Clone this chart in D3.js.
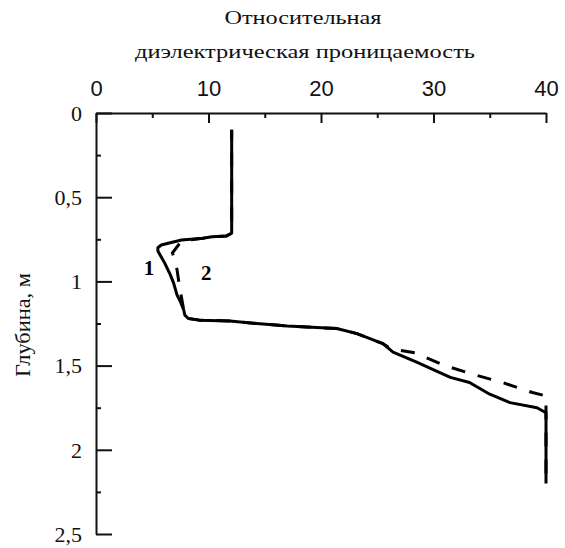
<!DOCTYPE html>
<html>
<head>
<meta charset="utf-8">
<script src="https://cdn.jsdelivr.net/npm/d3@7"></script>
<style>
  html, body { margin: 0; padding: 0; background: #fff; }
  svg { display: block; }
</style>
</head>
<body>
<svg id="chart" width="565" height="548"></svg>
<script>
// ---- data ----
const xTicksMajor = [0, 10, 20, 30, 40];
const xTicksMinor = [5, 15, 25, 35];
const yTicksMajor = [0, 0.5, 1, 1.5, 2, 2.5];
const yTicksMinor = [0.25, 0.75, 1.25, 1.75, 2.25];

// curve 1 (solid): permittivity vs depth
const curve1Eps   = [12.06, 12.06, 11.6, 10.3, 9.5, 7.6, 6.6, 5.8, 5.5, 5.5, 6.1, 6.6, 6.9, 7.2, 7.5, 7.8, 7.9, 8.2, 9.2, 11.9, 14.3, 17.0, 21.4, 23.2, 25.5, 26.4, 28.5, 31.5, 33.2, 35.0, 36.8, 39.2, 40, 40];
const curve1Depth = [0.10, 0.714, 0.73, 0.735, 0.744, 0.754, 0.77, 0.784, 0.80, 0.82, 0.89, 0.96, 1.01, 1.08, 1.12, 1.17, 1.20, 1.22, 1.23, 1.235, 1.25, 1.265, 1.28, 1.31, 1.37, 1.42, 1.48, 1.57, 1.60, 1.67, 1.72, 1.75, 1.78, 2.20];

// curve 2 (dashed)
const curve2Eps   = [12.06, 12.06, 11.6, 10.3, 9.5, 7.6, 6.8, 7.0, 7.2, 7.4, 7.8, 7.9, 8.2, 9.2, 11.9, 14.3, 17.0, 21.4, 23.2, 25.5, 26.2, 28.4, 30.9, 33.4, 36.1, 38.8, 40, 40];
const curve2Depth = [0.10, 0.714, 0.73, 0.735, 0.744, 0.76, 0.83, 0.88, 0.93, 1.02, 1.17, 1.20, 1.22, 1.23, 1.235, 1.25, 1.265, 1.28, 1.31, 1.37, 1.40, 1.425, 1.497, 1.55, 1.60, 1.66, 1.68, 2.20];

const curveLabels = ["1", "2"];
const labelEps   = [4.7, 9.8];
const labelDepth = [0.96, 0.99];

const titleLines = ["Относительная", "диэлектрическая проницаемость"];
const yTitle = "Глубина, м";

// ---- layout ----
const svg = d3.select("#chart");
const x = d3.scaleLinear().domain([0, 40]).range([96, 546]);
const y = d3.scaleLinear().domain([0, 2.5]).range([113, 534]);
const ink = "#111";

// left axis
const gLeft = svg.append("g").attr("transform", `translate(${x(0)},0)`);
gLeft.call(d3.axisLeft(y).tickValues(yTicksMajor).tickSize(-16).tickSizeOuter(0).tickPadding(14)
  .tickFormat(d => String(d).replace(".", ",")));
gLeft.append("g").call(d3.axisLeft(y).tickValues(yTicksMinor).tickSize(-5).tickSizeOuter(0).tickFormat(""))
  .select(".domain").remove();
gLeft.selectAll("path.domain").attr("stroke", ink).attr("stroke-width", 2);
gLeft.selectAll(".tick line").attr("stroke", ink).attr("stroke-width", 2);
gLeft.selectAll(".tick text")
  .attr("font-family", "'Liberation Serif', 'Times New Roman', serif")
  .attr("font-size", 22).attr("fill", ink).attr("dy", "0.33em");

// top axis
const gTop = svg.append("g").attr("transform", `translate(0,${y(0)})`);
gTop.call(d3.axisTop(x).tickValues(xTicksMajor).tickSize(-10).tickSizeOuter(0).tickPadding(17));
gTop.append("g").call(d3.axisTop(x).tickValues(xTicksMinor).tickSize(-5).tickSizeOuter(0).tickFormat(""))
  .select(".domain").remove();
gTop.selectAll("path.domain").attr("stroke", ink).attr("stroke-width", 2);
gTop.selectAll(".tick line").attr("stroke", ink).attr("stroke-width", 2);
gTop.selectAll(".tick text")
  .attr("font-family", "'Liberation Sans', Arial, sans-serif")
  .attr("font-size", 22).attr("fill", ink);

// curves
const line = d3.line().x(d => x(d[0])).y(d => y(d[1]));
const c1 = curve1Eps.map((e, i) => [e, curve1Depth[i]]);
const c2 = curve2Eps.map((e, i) => [e, curve2Depth[i]]);

svg.append("path").datum(c2).attr("d", line)
  .attr("fill", "none").attr("stroke", "#000").attr("stroke-width", 3)
  .attr("stroke-dasharray", "14,13").attr("stroke-dashoffset", 4);
svg.append("path").datum(c1).attr("d", line)
  .attr("fill", "none").attr("stroke", "#000").attr("stroke-width", 3)
  .attr("stroke-linejoin", "round");

// curve labels
svg.selectAll("text.clabel").data(curveLabels).join("text")
  .attr("class", "clabel")
  .attr("x", (d, i) => x(labelEps[i]))
  .attr("y", (d, i) => y(labelDepth[i]))
  .attr("text-anchor", "middle")
  .attr("font-family", "'Liberation Serif', 'Times New Roman', serif")
  .attr("font-weight", "bold").attr("font-size", 21).attr("fill", "#000")
  .text(d => d);

// titles
svg.append("text").attr("x", 303).attr("y", 24).attr("text-anchor", "middle")
  .attr("font-family", "'Liberation Serif', serif").attr("font-size", 19).attr("fill", ink)
  .attr("textLength", 157).attr("lengthAdjust", "spacingAndGlyphs")
  .text(titleLines[0]);
svg.append("text").attr("x", 305).attr("y", 58).attr("text-anchor", "middle")
  .attr("font-family", "'Liberation Serif', serif").attr("font-size", 19).attr("fill", ink)
  .attr("textLength", 340).attr("lengthAdjust", "spacingAndGlyphs")
  .text(titleLines[1]);

svg.append("text")
  .attr("transform", "translate(30,325) rotate(-90)")
  .attr("text-anchor", "middle")
  .attr("font-family", "'Liberation Serif', serif").attr("font-size", 21).attr("fill", ink)
  .attr("textLength", 104).attr("lengthAdjust", "spacingAndGlyphs")
  .text(yTitle);
</script>
</body>
</html>
